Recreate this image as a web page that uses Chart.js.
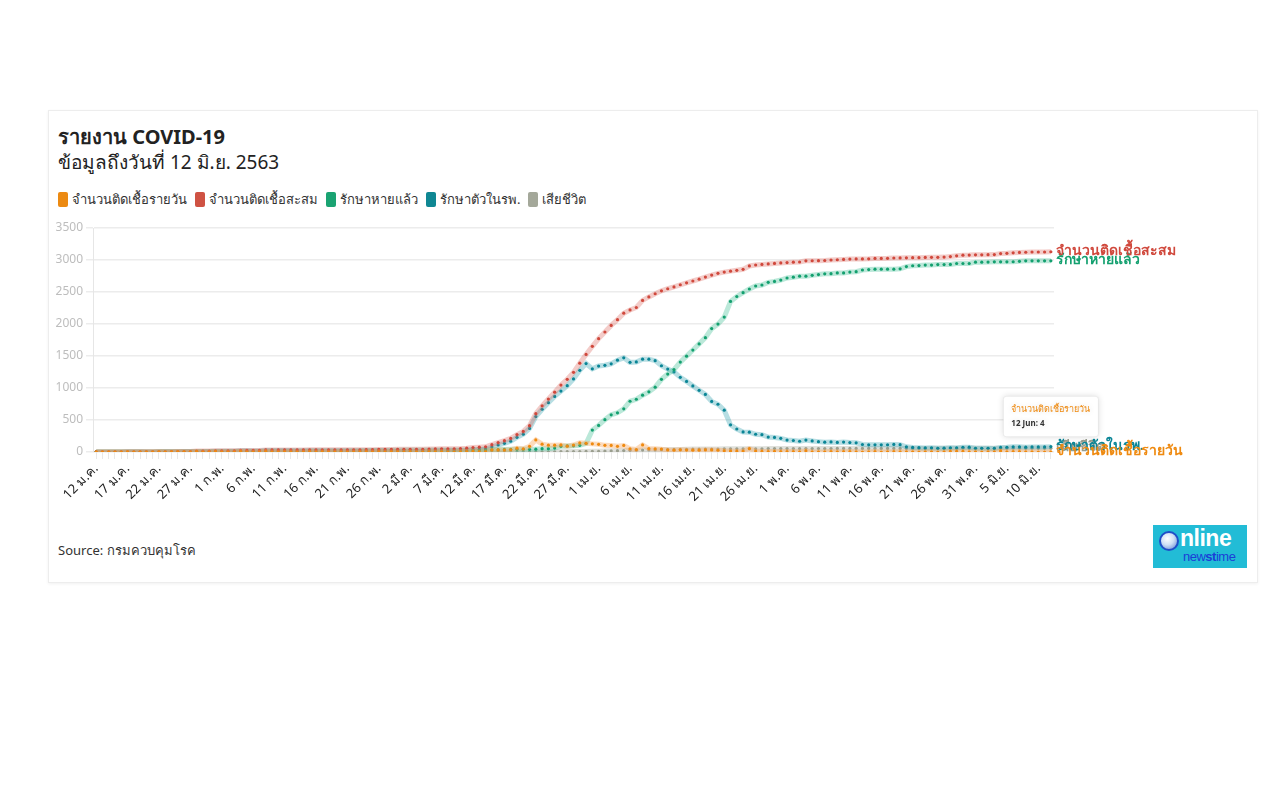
<!DOCTYPE html>
<html>
<head>
<meta charset="utf-8">
<script src="https://cdn.jsdelivr.net/npm/chart.js@4.4.0/dist/chart.umd.min.js"></script>
<style>
  body { margin: 0; background: #fff; font-family: "Noto Sans", "Open Sans", sans-serif; color: #333; }
  .card { position: absolute; left: 48px; top: 110px; width: 1208px; height: 471px; border: 1px solid #ededed; box-shadow: 0 1px 3px rgba(0,0,0,0.06); }
  .title { position: absolute; left: 58px; top: 121px; font-size: 20px; font-weight: bold; color: #222; }
  .subtitle { position: absolute; left: 58px; top: 147px; font-size: 19px; color: #222; }
  .legend { position: absolute; left: 58px; top: 189px; font-size: 13px; color: #333; display: flex; }
  .legend span { display: flex; align-items: center; margin-right: 8px; }
  .legend i { display: inline-block; width: 10px; height: 15px; border-radius: 2px; margin-right: 4px; }
  .source { position: absolute; left: 58px; top: 540px; font-size: 13px; color: #333; }
  #chart { position: absolute; left: 48px; top: 215px; }
  .logo { position: absolute; left: 1153px; top: 525px; width: 94px; height: 43px; background: #22bcd6; }
  .logo .o { position: absolute; left: 6px; top: 6px; width: 20px; height: 20px; border-radius: 50%; background: radial-gradient(circle at 40% 35%, #fff 0%, #cfe0f5 45%, #5b7fd0 100%); border: 2px solid #1f4fc8; box-sizing: border-box; }
  .logo .nl { position: absolute; left: 27px; top: 0px; font-size: 23px; font-weight: bold; color: #fff; font-family: "Liberation Sans", sans-serif; letter-spacing: -0.5px; }
  .logo .nt { position: absolute; left: 30px; top: 24px; font-size: 13px; color: #1b3fd6; font-family: "Liberation Sans", sans-serif; letter-spacing: -0.5px; }
</style>
</head>
<body>
<div class="card"></div>
<div class="title">รายงาน COVID-19</div>
<div class="subtitle">ข้อมูลถึงวันที่ 12 มิ.ย. 2563</div>
<div class="legend" id="legend"></div>
<canvas id="chart" width="1210" height="310"></canvas>
<div class="source">Source: กรมควบคุมโรค</div>
<div class="logo"><div class="o"></div><div class="nl">nline</div><div class="nt">new<b>st</b>ime</div></div>

<script>
// Date range: 12 Jan - 12 Jun 2020
const months = [
    { th: 'ม.ค.', en: 'Jan', from: 12, to: 31 },
    { th: 'ก.พ.', en: 'Feb', from: 1, to: 29 },
    { th: 'มี.ค.', en: 'Mar', from: 1, to: 31 },
    { th: 'เม.ย.', en: 'Apr', from: 1, to: 30 },
    { th: 'พ.ค.', en: 'May', from: 1, to: 31 },
    { th: 'มิ.ย.', en: 'Jun', from: 1, to: 12 }
];

// จำนวนติดเชื้อรายวัน
const dailyCases = [
    1, 0, 0, 0, 0, 1, 0, 0, 0, 0, 2, 0, 1, 2, 1, 0, 6, 0, 0, 5,
    0, 0, 0, 6, 0, 0, 0, 7, 0, 0, 1, 0, 0, 0, 1, 0, 1, 0, 0, 0, 0, 0, 0, 2, 0, 3, 0, 1, 1,
    0, 1, 0, 0, 4, 1, 2, 0, 0, 3, 6, 11, 5, 7, 32, 33, 30, 35, 60, 50, 89, 188, 122, 106, 107, 111, 91, 109, 143, 136, 127,
    120, 104, 103, 89, 102, 51, 38, 111, 54, 50, 45, 33, 28, 34, 30, 29, 28, 33, 32, 27, 19, 15, 13, 15, 53, 15, 9, 7, 9, 7,
    6, 6, 3, 18, 1, 1, 3, 8, 4, 5, 6, 2, 0, 1, 7, 0, 1, 5, 2, 1, 3, 0, 3, 2, 0, 3, 9, 11, 11, 1, 4,
    0, 2, 1, 17, 3, 8, 7, 2, 4, 0, 0, 4
];

// จำนวนติดเชื้อสะสม
const totalCases = [
    1, 1, 1, 1, 1, 2, 2, 2, 2, 2, 4, 4, 5, 7, 8, 8, 14, 14, 14, 19,
    19, 19, 19, 25, 25, 25, 25, 32, 32, 32, 33, 33, 33, 33, 34, 34, 35, 35, 35, 35, 35, 35, 35, 37, 37, 40, 40, 41, 42,
    42, 43, 43, 43, 47, 48, 50, 50, 50, 53, 59, 70, 75, 82, 114, 147, 177, 212, 272, 322, 411, 599, 721, 827, 934, 1045, 1136, 1245, 1388, 1524, 1651,
    1771, 1875, 1978, 2067, 2169, 2220, 2258, 2369, 2423, 2473, 2518, 2551, 2579, 2613, 2643, 2672, 2700, 2733, 2765, 2792, 2811, 2826, 2839, 2854, 2907, 2922, 2931, 2938, 2947, 2954,
    2960, 2966, 2969, 2987, 2988, 2989, 2992, 3000, 3004, 3009, 3015, 3017, 3017, 3018, 3025, 3025, 3026, 3031, 3033, 3034, 3037, 3037, 3040, 3042, 3042, 3045, 3054, 3065, 3076, 3077, 3081,
    3081, 3083, 3084, 3101, 3104, 3112, 3119, 3121, 3125, 3125, 3125, 3129
];

// รักษาหายแล้ว
const recovered = [
    0, 0, 0, 0, 0, 0, 0, 0, 1, 1, 2, 2, 2, 2, 2, 2, 5, 5, 5, 7,
    7, 7, 7, 7, 7, 8, 8, 10, 10, 10, 10, 10, 12, 12, 14, 14, 14, 15, 15, 15, 15, 21, 21, 22, 22, 22, 24, 28, 28,
    31, 31, 31, 31, 31, 31, 31, 31, 31, 33, 33, 34, 35, 35, 35, 36, 41, 42, 42, 42, 42, 44, 52, 52, 61, 88, 95, 97, 105, 133, 342,
    416, 505, 581, 612, 674, 793, 824, 888, 940, 1013, 1135, 1218, 1288, 1405, 1497, 1593, 1689, 1787, 1928, 1999, 2108, 2352, 2430, 2490, 2547, 2594, 2609, 2651, 2665, 2687,
    2719, 2732, 2747, 2747, 2761, 2772, 2784, 2787, 2798, 2798, 2812, 2817, 2844, 2850, 2857, 2857, 2857, 2857, 2862, 2897, 2910, 2913, 2921, 2921, 2928, 2928, 2931, 2945, 2945, 2945, 2966,
    2966, 2968, 2971, 2972, 2972, 2973, 2980, 2987, 2987, 2987, 2987, 2987
];

// รักษาตัวในรพ.
const inHospital = [
    1, 1, 1, 1, 1, 2, 2, 2, 1, 1, 2, 2, 3, 5, 6, 6, 9, 9, 9, 12,
    12, 12, 12, 18, 18, 17, 17, 22, 22, 22, 23, 23, 21, 21, 20, 20, 21, 20, 20, 20, 20, 14, 14, 15, 15, 18, 16, 13, 13,
    10, 11, 11, 11, 15, 16, 18, 18, 18, 19, 25, 35, 39, 46, 78, 110, 135, 169, 229, 279, 368, 554, 668, 771, 869, 952, 1036, 1142, 1276, 1382, 1299,
    1343, 1355, 1378, 1435, 1472, 1401, 1407, 1451, 1451, 1427, 1348, 1295, 1251, 1167, 1103, 1033, 964, 899, 790, 746, 654, 424, 359, 314, 309, 277, 271, 233, 228, 213,
    187, 180, 168, 186, 173, 162, 153, 158, 150, 155, 147, 144, 117, 112, 112, 112, 113, 118, 115, 81, 71, 68, 63, 65, 57, 60, 66, 63, 74, 75, 58,
    58, 58, 56, 71, 74, 81, 81, 76, 80, 80, 80, 84
];

// เสียชีวิต
const deaths = [
    0, 0, 0, 0, 0, 0, 0, 0, 0, 0, 0, 0, 0, 0, 0, 0, 0, 0, 0, 0,
    0, 0, 0, 0, 0, 0, 0, 0, 0, 0, 0, 0, 0, 0, 0, 0, 0, 0, 0, 0, 0, 0, 0, 0, 0, 0, 0, 0, 1,
    1, 1, 1, 1, 1, 1, 1, 1, 1, 1, 1, 1, 1, 1, 1, 1, 1, 1, 1, 1, 1, 1, 1, 4, 4, 5, 5, 6, 7, 9, 10,
    12, 15, 19, 20, 23, 26, 27, 30, 32, 33, 35, 38, 40, 41, 43, 46, 47, 47, 47, 47, 49, 50, 50, 50, 51, 51, 51, 54, 54, 54,
    54, 54, 54, 54, 54, 55, 55, 55, 56, 56, 56, 56, 56, 56, 56, 56, 56, 56, 56, 56, 56, 56, 56, 56, 57, 57, 57, 57, 57, 57, 57,
    57, 57, 57, 58, 58, 58, 58, 58, 58, 58, 58, 58
];

const seriesNames = ['จำนวนติดเชื้อรายวัน', 'จำนวนติดเชื้อสะสม', 'รักษาหายแล้ว', 'รักษาตัวในรพ.', 'เสียชีวิต'];
const pointColors = ['#ef8a10', '#d0483c', '#13a06f', '#0a8596', '#9a9e8e'];
const lineColors = ['rgba(247,165,90,0.4)', 'rgba(222,110,100,0.35)', 'rgba(60,190,145,0.35)', 'rgba(50,160,175,0.35)', 'rgba(165,170,155,0.35)'];
const legendColors = ['#ec8a12', '#cf5243', '#1aa372', '#0f8793', '#a4a89a'];

const thaiLabels = [];
const engLabels = [];
months.forEach(m => {
    for (let d = m.from; d <= m.to; d++) {
        thaiLabels.push(d + ' ' + m.th);
        engLabels.push(d + ' ' + m.en);
    }
});

// legend
const legend = document.getElementById('legend');
seriesNames.forEach((name, i) => {
    legend.innerHTML += '<span><i style="background:' + legendColors[i] + '"></i>' + name + '</span>';
});

const allSeries = [dailyCases, totalCases, recovered, inHospital, deaths];

// labels at the end of each line
const endLabels = {
    id: 'endLabels',
    afterDatasetsDraw(chart) {
        const ctx = chart.ctx;
        ctx.save();
        ctx.font = '600 14px "Noto Sans", sans-serif';
        ctx.textBaseline = 'middle';
        for (let i = allSeries.length - 1; i >= 0; i--) {
            const meta = chart.getDatasetMeta(i);
            const pt = meta.data[meta.data.length - 1];
            ctx.fillStyle = pointColors[i];
            ctx.fillText(seriesNames[i], pt.x + 5, pt.y - 1);
        }
        ctx.restore();
    }
};

const tooltipShadow = {
    id: 'tooltipShadow',
    beforeTooltipDraw(chart) {
        chart.ctx.save();
        chart.ctx.shadowColor = 'rgba(0,0,0,0.15)';
        chart.ctx.shadowBlur = 6;
    },
    afterTooltipDraw(chart) {
        chart.ctx.restore();
    }
};

const ctx = document.getElementById('chart').getContext('2d');
const covidChart = new Chart(ctx, {
    type: 'line',
    data: {
        labels: thaiLabels,
        datasets: allSeries.map((values, i) => ({
            label: seriesNames[i],
            data: values,
            borderColor: lineColors[i],
            borderWidth: 5,
            pointRadius: 1.6,
            pointBorderWidth: 0,
            pointBackgroundColor: pointColors[i],
            pointHoverRadius: 1.6,
            fill: false,
            tension: 0
        }))
    },
    options: {
        responsive: false,
        animation: false,
        devicePixelRatio: 1,
        layout: { padding: { top: 13, right: 204, bottom: 0, left: 0 } },
        plugins: {
            legend: { display: false },
            tooltip: {
                backgroundColor: '#fff',
                titleColor: '#ef8a10',
                titleFont: { size: 9, weight: 'normal', family: '"Noto Sans", sans-serif' },
                titleMarginBottom: 4,
                bodyColor: '#333',
                bodyFont: { size: 8, weight: 'bold', family: '"Noto Sans", sans-serif' },
                displayColors: false,
                padding: 8,
                cornerRadius: 3,
                caretSize: 0,
                caretPadding: 15,
                yAlign: 'bottom',
                borderColor: 'rgba(0,0,0,0.06)',
                borderWidth: 1,
                callbacks: {
                    title: items => items[0].dataset.label,
                    label: item => engLabels[item.dataIndex] + ': ' + item.formattedValue
                }
            }
        },
        scales: {
            x: {
                offset: true,
                afterFit: s => { s.height = 73; },
                grid: { drawOnChartArea: false, drawTicks: true, tickLength: 7, color: '#e8e8e8' },
                border: { display: false },
                ticks: {
                    autoSkip: false,
                    minRotation: 45,
                    maxRotation: 45,
                    padding: 2,
                    color: '#222',
                    font: { size: 13, family: '"Noto Sans", sans-serif' },
                    callback: (v, i) => (i % 5 === 0 ? thaiLabels[i] : '')
                }
            },
            y: {
                min: 0,
                max: 3500,
                afterFit: s => { s.width = 45; },
                grid: { color: '#ececec', lineWidth: 1.5, tickLength: 7 },
                border: { color: '#e6e6e6' },
                ticks: {
                    stepSize: 500,
                    padding: 3,
                    color: '#bdbdbd',
                    font: { size: 12, family: '"Noto Sans", sans-serif' },
                    callback: v => String(v)
                }
            }
        }
    },
    plugins: [endLabels, tooltipShadow]
});

// show the tooltip on the last daily point
const lastPt = covidChart.getDatasetMeta(0).data[dailyCases.length - 1];
covidChart.tooltip.setActiveElements([{ datasetIndex: 0, index: dailyCases.length - 1 }], { x: lastPt.x, y: lastPt.y });
covidChart.update();
</script>
</body>
</html>
